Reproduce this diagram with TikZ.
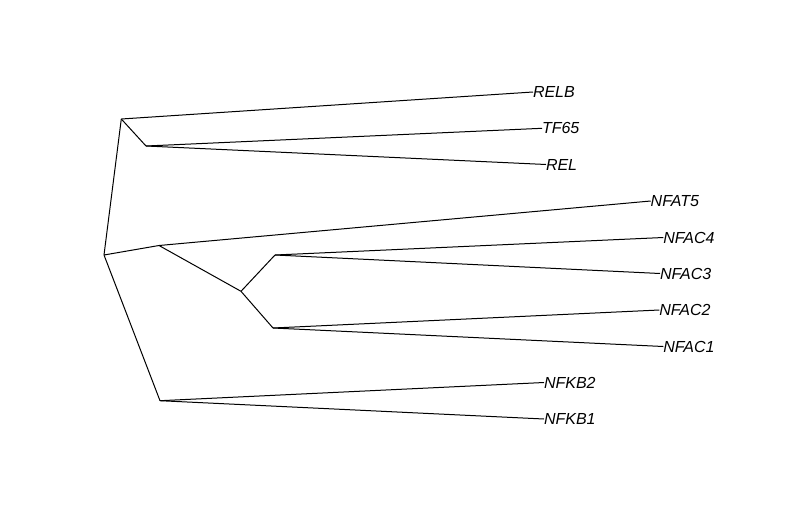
\documentclass[tikz,border=0pt]{standalone}
\usepackage{fontspec}
\setmainfont{Liberation Sans}
\begin{document}
\begin{tikzpicture}[x=1pt,y=-1pt,
  br/.style={draw=black,line width=1pt,line join=round},
  tip/.style={inner sep=0pt,outer sep=0pt,anchor=west,font=\fontsize{16}{17}\selectfont\itshape},
  inode/.style={coordinate}]
\useasboundingbox (0,0) rectangle (800,530);
% internal nodes
\coordinate (root) at (104,255);
\coordinate (A) at (121.3,119);
\coordinate (B) at (146,146);
\coordinate (C) at (159,245.5);
\coordinate (D) at (241,291.3);
\coordinate (E) at (275,255);
\coordinate (F) at (273,328);
\coordinate (G) at (160,400.7);
% tips
\node[tip] (relb) at (533,92) {RELB};
\node[tip] (tf65) at (542,128.3) {TF65};
\node[tip] (rel) at (546,164.5) {REL};
\node[tip] (nfat5) at (650.7,201) {NFAT5};
\node[tip] (nfac4) at (663.3,237.5) {NFAC4};
\node[tip] (nfac3) at (660,273.5) {NFAC3};
\node[tip] (nfac2) at (659.3,310) {NFAC2};
\node[tip] (nfac1) at (663.3,346.5) {NFAC1};
\node[tip] (nfkb2) at (544,382.5) {NFKB2};
\node[tip] (nfkb1) at (544,419) {NFKB1};
% branches
\draw[br] (root) -- (A);
\draw[br] (root) -- (C);
\draw[br] (root) -- (G);
\draw[br] (A) -- (relb.west);
\draw[br] (A) -- (B);
\draw[br] (B) -- (tf65.west);
\draw[br] (B) -- (rel.west);
\draw[br] (C) -- (nfat5.west);
\draw[br] (C) -- (D);
\draw[br] (D) -- (E);
\draw[br] (D) -- (F);
\draw[br] (E) -- (nfac4.west);
\draw[br] (E) -- (nfac3.west);
\draw[br] (F) -- (nfac2.west);
\draw[br] (F) -- (nfac1.west);
\draw[br] (G) -- (nfkb2.west);
\draw[br] (G) -- (nfkb1.west);
\end{tikzpicture}
\end{document}
